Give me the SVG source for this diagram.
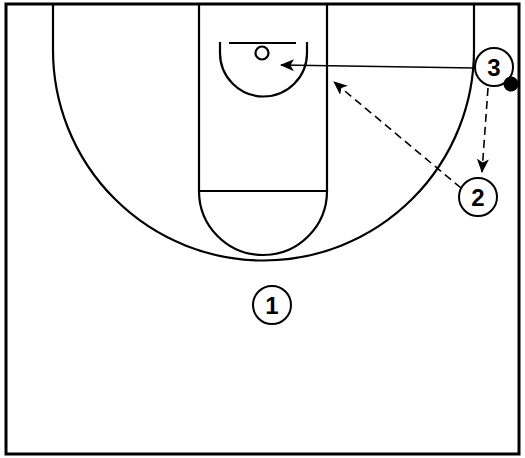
<svg xmlns="http://www.w3.org/2000/svg" width="525" height="458" viewBox="0 0 525 458">
<defs>
<marker id="ah" viewBox="0 0 14 12" refX="13" refY="6" markerWidth="14" markerHeight="12" markerUnits="userSpaceOnUse" orient="auto">
<path d="M0,0 L14,6 L0,12 L3.5,6 z" fill="#000"/>
</marker>
<style>
.court{fill:none;stroke:#000;stroke-width:2.2}
.player circle{fill:#fff;stroke:#000;stroke-width:2}
.player text{font-family:"Liberation Sans",Arial,sans-serif;font-weight:bold;font-size:24px;text-anchor:middle;fill:#000}
.pass{fill:none;stroke:#000;stroke-width:1.6;marker-end:url(#ah)}
.cut{fill:none;stroke:#000;stroke-width:1.6;stroke-dasharray:8,5;marker-end:url(#ah)}
</style>
</defs>
<rect width="525" height="458" fill="#fff"/>
<g id="court">
<rect x="6" y="4" width="513" height="450" fill="none" stroke="#000" stroke-width="3"/>
<path class="court" d="M53,4 L53,50 A210.5,210.5 0 0 0 474,50 L474,4"/>
<path class="court" d="M199,4 L199,191 L327,191 L327,4"/>
<path class="court" d="M199,191 A64,64 0 0 0 327,191"/>
<path class="court" d="M220,42 L220,53 A43.5,43.5 0 0 0 307,53 L307,42"/>
<line class="court" x1="229" y1="43" x2="296" y2="43"/>
<circle class="court" cx="262" cy="53" r="6.5"/>
</g>
<g id="connectors">
<line class="pass" x1="475" y1="68" x2="281" y2="65"/>
<line class="cut" x1="461" y1="188" x2="334" y2="82"/>
<line class="cut" x1="488" y1="88" x2="482" y2="172"/>
</g>
<g id="player3" class="player">
<circle cx="494" cy="67" r="19"/>
<text x="494" y="76">3</text>
</g>
<circle id="ball" cx="511" cy="84" r="7.5" fill="#000"/>
<g id="player2" class="player">
<circle cx="478" cy="197" r="19"/>
<text x="478" y="206">2</text>
</g>
<g id="player1" class="player">
<circle cx="272" cy="305" r="19"/>
<text x="272" y="314">1</text>
</g>
</svg>
